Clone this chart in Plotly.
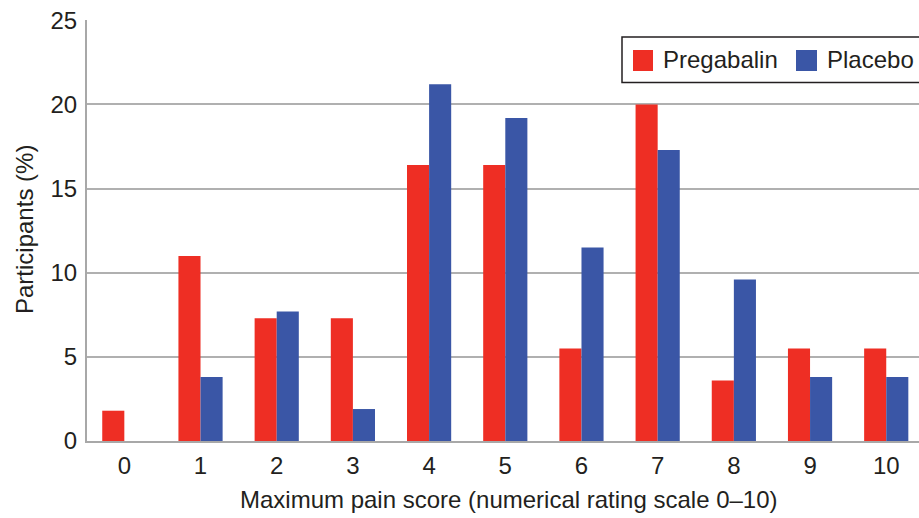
import plotly.graph_objects as go

categories = [0, 1, 2, 3, 4, 5, 6, 7, 8, 9, 10]
tick_labels = ["0", "1", "2", "3", "4", "5", "6", "7", "8", "9", "10"]
pregabalin = [1.8, 11.0, 7.3, 7.3, 16.4, 16.4, 5.5, 20.0, 3.6, 5.5, 5.5]
placebo = [0, 3.8, 7.7, 1.9, 21.2, 19.2, 11.5, 17.3, 9.6, 3.8, 3.8]
y_ticks = [0, 5, 10, 15, 20, 25]

RED = "#EE2E24"
BLUE = "#3A56A6"
FONT = "Liberation Sans, Arial, sans-serif"
TXT = "#231F20"

W, H = 919, 518
ML, MR, MT, MB = 87, 0, 20, 518 - 441

fig = go.Figure()
fig.add_trace(go.Bar(x=categories, y=pregabalin, name="Pregabalin",
                     marker=dict(color=RED, line=dict(width=0))))
fig.add_trace(go.Bar(x=categories, y=placebo, name="Placebo",
                     marker=dict(color=BLUE, line=dict(width=0))))

pw = W - ML - MR
ph = H - MT - MB


def px_x(x):
    return (x - ML) / pw


def px_y(y):
    return (H - MB - y) / ph


shapes = [
    dict(type="rect", xref="paper", yref="paper",
         x0=px_x(622), x1=px_x(930), y0=px_y(82.5), y1=px_y(37),
         line=dict(color="#231F20", width=1.5), fillcolor="white", layer="above"),
    dict(type="rect", xref="paper", yref="paper",
         x0=px_x(633), x1=px_x(653), y0=px_y(71), y1=px_y(50),
         line=dict(width=0), fillcolor=RED, layer="above"),
    dict(type="rect", xref="paper", yref="paper",
         x0=px_x(796), x1=px_x(817), y0=px_y(71), y1=px_y(50),
         line=dict(width=0), fillcolor=BLUE, layer="above"),
]

annotations = [
    dict(text="Pregabalin", xref="paper", yref="paper", x=px_x(661), y=px_y(60),
         xanchor="left", yanchor="middle", showarrow=False,
         font=dict(family=FONT, size=24, color=TXT)),
    dict(text="Placebo", xref="paper", yref="paper", x=px_x(825), y=px_y(60),
         xanchor="left", yanchor="middle", showarrow=False,
         font=dict(family=FONT, size=24, color=TXT)),
    dict(text="Participants (%)", xref="paper", yref="paper", x=px_x(24), y=px_y(230),
         xanchor="center", yanchor="middle", textangle=-90, showarrow=False,
         font=dict(family=FONT, size=24, color=TXT)),
    dict(text="Maximum pain score (numerical rating scale 0–10)", xref="paper", yref="paper",
         x=px_x(509), y=px_y(499), xanchor="center", yanchor="middle", showarrow=False,
         font=dict(family=FONT, size=24, color=TXT)),
]

fig.update_layout(
    width=W, height=H,
    margin=dict(l=ML, r=MR, t=MT, b=MB, pad=0),
    paper_bgcolor="white", plot_bgcolor="white",
    barmode="group", bargap=0.42, bargroupgap=0,
    showlegend=False,
    shapes=shapes, annotations=annotations,
    font=dict(family=FONT, size=24, color=TXT),
)
fig.update_xaxes(
    range=[-0.49, 10.43], tickmode="array", tickvals=categories, ticktext=tick_labels,
    showgrid=False, showline=True, linecolor="#A8A8A8", linewidth=2,
    ticks="outside", ticklen=2, tickcolor="rgba(0,0,0,0)",
    tickfont=dict(family=FONT, size=24, color=TXT), zeroline=False,
)
fig.update_yaxes(
    range=[0, 25.02], tickmode="array", tickvals=y_ticks,
    showgrid=True, gridcolor="#B0B0B0", gridwidth=2,
    showline=True, linecolor="#A8A8A8", linewidth=2,
    ticks="outside", ticklen=3, tickcolor="rgba(0,0,0,0)",
    tickfont=dict(family=FONT, size=24, color=TXT), zeroline=False,
)

fig.write_html(
    "out.html",
    config={"displayModeBar": False},
    post_script="document.body.style.margin='0';document.body.style.overflow='hidden';",
)
